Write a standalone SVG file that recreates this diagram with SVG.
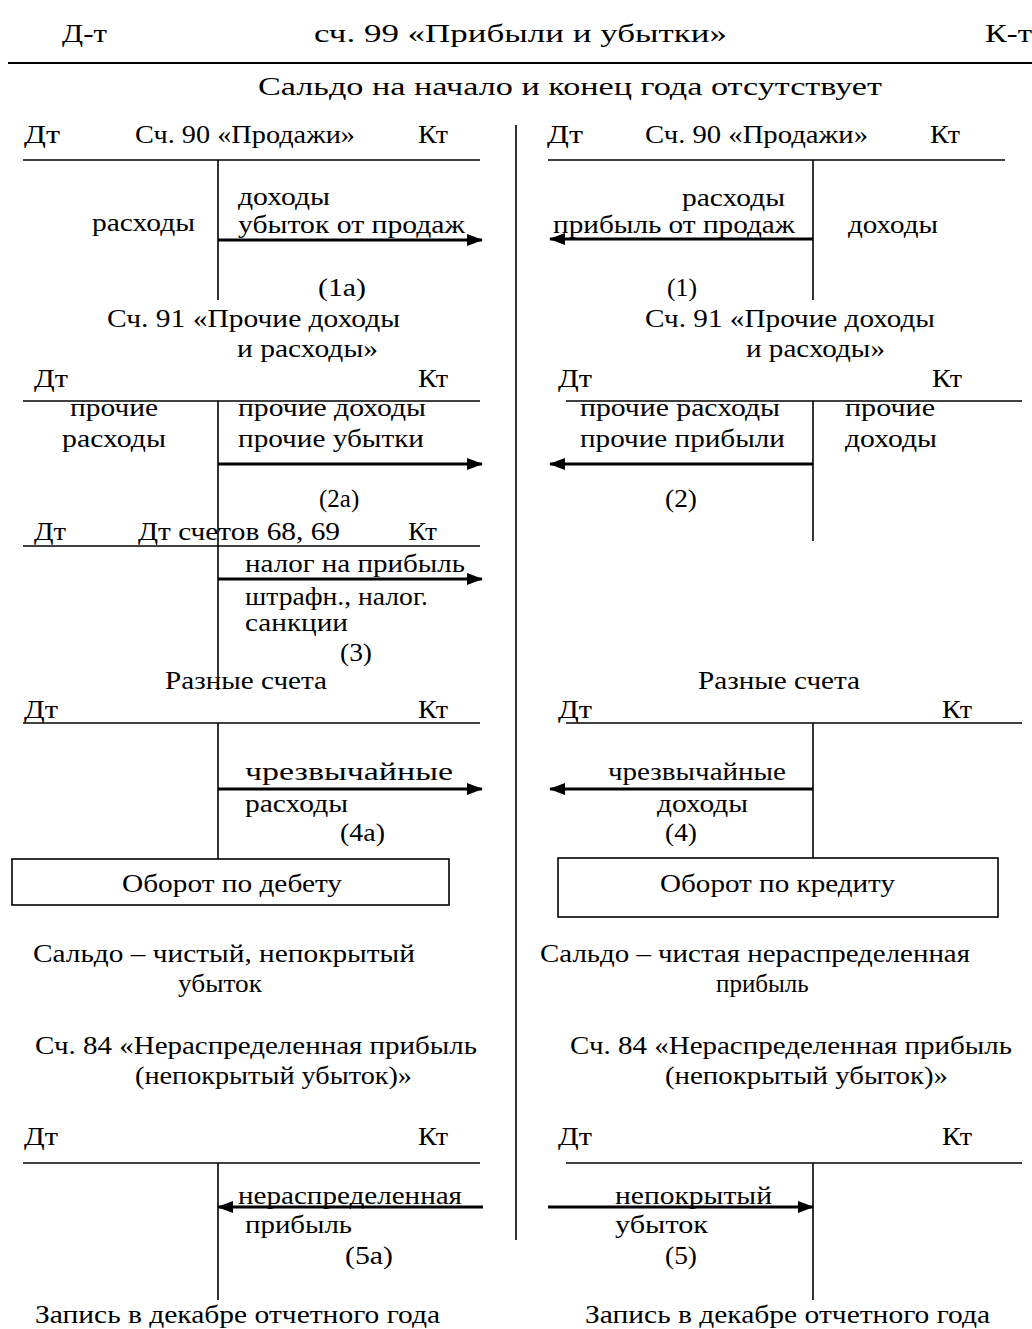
<svg xmlns="http://www.w3.org/2000/svg" width="1032" height="1329" viewBox="0 0 1032 1329">
<defs>
<style>
text{font-family:"Liberation Serif","DejaVu Serif",serif;font-size:25px;fill:#000}
.ln{stroke:#000;stroke-width:1.6;fill:none}
.ar{stroke:#000;stroke-width:3;fill:none}
</style>
<marker id="ah" viewBox="0 0 16 12" refX="15" refY="6" markerWidth="16" markerHeight="12" markerUnits="userSpaceOnUse" orient="auto">
<path d="M0,0 L16,6 L0,12 Z" fill="#000"/>
</marker>
</defs>
<rect width="1032" height="1329" fill="#fff"/>

<g id="header">
<text x="62" y="42" textLength="45" lengthAdjust="spacingAndGlyphs">Д-т</text>
<text x="314" y="42" textLength="413" lengthAdjust="spacingAndGlyphs">сч. 99 «Прибыли и убытки»</text>
<text x="985" y="42" textLength="47" lengthAdjust="spacingAndGlyphs">К-т</text>
<line x1="8" y1="63" x2="1032" y2="63" stroke="#000" stroke-width="2"/>
<text x="258" y="95" textLength="624" lengthAdjust="spacingAndGlyphs">Сальдо на начало и конец года отсутствует</text>
<line class="ln" x1="516" y1="125" x2="516" y2="1240"/>
</g>

<g id="acc90-left">
<text x="24" y="143" textLength="36" lengthAdjust="spacingAndGlyphs">Дт</text>
<text x="135" y="143" textLength="220" lengthAdjust="spacingAndGlyphs">Сч. 90 «Продажи»</text>
<text x="418" y="143" textLength="30" lengthAdjust="spacingAndGlyphs">Кт</text>
<line class="ln" x1="23" y1="160" x2="480" y2="160"/>
<line class="ln" x1="218" y1="160" x2="218" y2="300"/>
<text x="238" y="205" textLength="92" lengthAdjust="spacingAndGlyphs">доходы</text>
<text x="238" y="233" textLength="227" lengthAdjust="spacingAndGlyphs">убыток от продаж</text>
<text x="92" y="231" textLength="103" lengthAdjust="spacingAndGlyphs">расходы</text>
<text x="318" y="296" textLength="48" lengthAdjust="spacingAndGlyphs">(1а)</text>
</g>

<g id="acc90-right">
<text x="547" y="143" textLength="36" lengthAdjust="spacingAndGlyphs">Дт</text>
<text x="645" y="143" textLength="223" lengthAdjust="spacingAndGlyphs">Сч. 90 «Продажи»</text>
<text x="930" y="143" textLength="30" lengthAdjust="spacingAndGlyphs">Кт</text>
<line class="ln" x1="548" y1="160" x2="1005" y2="160"/>
<line class="ln" x1="813" y1="160" x2="813" y2="300"/>
<text x="682" y="206" textLength="103" lengthAdjust="spacingAndGlyphs">расходы</text>
<text x="553" y="233" textLength="242" lengthAdjust="spacingAndGlyphs">прибыль от продаж</text>
<text x="848" y="233" textLength="90" lengthAdjust="spacingAndGlyphs">доходы</text>
<text x="667" y="296" textLength="30" lengthAdjust="spacingAndGlyphs">(1)</text>
</g>

<g id="acc91-left">
<text x="107" y="327" textLength="293" lengthAdjust="spacingAndGlyphs">Сч. 91 «Прочие доходы</text>
<text x="237" y="357" textLength="141" lengthAdjust="spacingAndGlyphs">и расходы»</text>
<text x="34" y="387" textLength="34" lengthAdjust="spacingAndGlyphs">Дт</text>
<text x="418" y="387" textLength="30" lengthAdjust="spacingAndGlyphs">Кт</text>
<line class="ln" x1="23" y1="401" x2="480" y2="401"/>
<line class="ln" x1="218" y1="401" x2="218" y2="690"/>
<text x="70" y="416" textLength="88" lengthAdjust="spacingAndGlyphs">прочие</text>
<text x="62" y="447" textLength="104" lengthAdjust="spacingAndGlyphs">расходы</text>
<text x="238" y="416" textLength="188" lengthAdjust="spacingAndGlyphs">прочие доходы</text>
<text x="238" y="447" textLength="186" lengthAdjust="spacingAndGlyphs">прочие убытки</text>
<text x="319" y="507">(2а)</text>
</g>

<g id="acc91-right">
<text x="645" y="327" textLength="290" lengthAdjust="spacingAndGlyphs">Сч. 91 «Прочие доходы</text>
<text x="746" y="357" textLength="139" lengthAdjust="spacingAndGlyphs">и расходы»</text>
<text x="558" y="387" textLength="34" lengthAdjust="spacingAndGlyphs">Дт</text>
<text x="932" y="387" textLength="30" lengthAdjust="spacingAndGlyphs">Кт</text>
<line class="ln" x1="566" y1="401" x2="1022" y2="401"/>
<line class="ln" x1="813" y1="401" x2="813" y2="541"/>
<text x="580" y="416" textLength="200" lengthAdjust="spacingAndGlyphs">прочие расходы</text>
<text x="580" y="447" textLength="205" lengthAdjust="spacingAndGlyphs">прочие прибыли</text>
<text x="845" y="416" textLength="90" lengthAdjust="spacingAndGlyphs">прочие</text>
<text x="845" y="447" textLength="92" lengthAdjust="spacingAndGlyphs">доходы</text>
<text x="665" y="507" textLength="32" lengthAdjust="spacingAndGlyphs">(2)</text>
</g>

<g id="acc68-69">
<text x="34" y="540" textLength="32" lengthAdjust="spacingAndGlyphs">Дт</text>
<text x="138" y="540" textLength="202" lengthAdjust="spacingAndGlyphs">Дт счетов 68, 69</text>
<text x="408" y="540" textLength="29" lengthAdjust="spacingAndGlyphs">Кт</text>
<line class="ln" x1="23" y1="546" x2="480" y2="546"/>
<text x="245" y="572" textLength="220" lengthAdjust="spacingAndGlyphs">налог на прибыль</text>
<text x="245" y="605" textLength="183" lengthAdjust="spacingAndGlyphs">штрафн., налог.</text>
<text x="245" y="631" textLength="103" lengthAdjust="spacingAndGlyphs">санкции</text>
<text x="340" y="661" textLength="32" lengthAdjust="spacingAndGlyphs">(3)</text>
</g>

<g id="misc-left">
<text x="165" y="689" textLength="162" lengthAdjust="spacingAndGlyphs">Разные счета</text>
<text x="24" y="718" textLength="34" lengthAdjust="spacingAndGlyphs">Дт</text>
<text x="418" y="718" textLength="30" lengthAdjust="spacingAndGlyphs">Кт</text>
<line class="ln" x1="23" y1="723" x2="480" y2="723"/>
<line class="ln" x1="218" y1="723" x2="218" y2="859"/>
<text x="245" y="780" textLength="208" lengthAdjust="spacingAndGlyphs">чрезвычайные</text>
<text x="245" y="812" textLength="103" lengthAdjust="spacingAndGlyphs">расходы</text>
<text x="340" y="841" textLength="45" lengthAdjust="spacingAndGlyphs">(4а)</text>
</g>

<g id="misc-right">
<text x="698" y="689" textLength="162" lengthAdjust="spacingAndGlyphs">Разные счета</text>
<text x="558" y="718" textLength="34" lengthAdjust="spacingAndGlyphs">Дт</text>
<text x="942" y="718" textLength="30" lengthAdjust="spacingAndGlyphs">Кт</text>
<line class="ln" x1="566" y1="723" x2="1022" y2="723"/>
<line class="ln" x1="813" y1="723" x2="813" y2="858"/>
<text x="608" y="780" textLength="178" lengthAdjust="spacingAndGlyphs">чрезвычайные</text>
<text x="657" y="812" textLength="91" lengthAdjust="spacingAndGlyphs">доходы</text>
<text x="665" y="841" textLength="32" lengthAdjust="spacingAndGlyphs">(4)</text>
</g>

<g id="turnover-debit">
<rect class="ln" x="12" y="859" width="437" height="46"/>
<text x="122" y="892" textLength="220" lengthAdjust="spacingAndGlyphs">Оборот по дебету</text>
</g>

<g id="turnover-credit">
<rect class="ln" x="558" y="858" width="440" height="59"/>
<text x="660" y="892" textLength="235" lengthAdjust="spacingAndGlyphs">Оборот по кредиту</text>
</g>

<g id="balance-left">
<text x="33" y="962" textLength="382" lengthAdjust="spacingAndGlyphs">Сальдо – чистый, непокрытый</text>
<text x="178" y="992" textLength="84" lengthAdjust="spacingAndGlyphs">убыток</text>
</g>

<g id="balance-right">
<text x="540" y="962" textLength="430" lengthAdjust="spacingAndGlyphs">Сальдо – чистая нераспределенная</text>
<text x="716" y="992">прибыль</text>
</g>

<g id="acc84-left">
<text x="35" y="1054" textLength="442" lengthAdjust="spacingAndGlyphs">Сч. 84 «Нераспределенная прибыль</text>
<text x="135" y="1084" textLength="277" lengthAdjust="spacingAndGlyphs">(непокрытый убыток)»</text>
<text x="24" y="1145" textLength="34" lengthAdjust="spacingAndGlyphs">Дт</text>
<text x="418" y="1145" textLength="30" lengthAdjust="spacingAndGlyphs">Кт</text>
<line class="ln" x1="23" y1="1163" x2="480" y2="1163"/>
<line class="ln" x1="218" y1="1163" x2="218" y2="1300"/>
<text x="238" y="1204" textLength="224" lengthAdjust="spacingAndGlyphs">нераспределенная</text>
<text x="245" y="1233" textLength="107" lengthAdjust="spacingAndGlyphs">прибыль</text>
<text x="345" y="1264" textLength="48" lengthAdjust="spacingAndGlyphs">(5а)</text>
<text x="35" y="1323" textLength="405" lengthAdjust="spacingAndGlyphs">Запись в декабре отчетного года</text>
</g>

<g id="acc84-right">
<text x="570" y="1054" textLength="442" lengthAdjust="spacingAndGlyphs">Сч. 84 «Нераспределенная прибыль</text>
<text x="665" y="1084" textLength="283" lengthAdjust="spacingAndGlyphs">(непокрытый убыток)»</text>
<text x="558" y="1145" textLength="34" lengthAdjust="spacingAndGlyphs">Дт</text>
<text x="942" y="1145" textLength="30" lengthAdjust="spacingAndGlyphs">Кт</text>
<line class="ln" x1="566" y1="1163" x2="1022" y2="1163"/>
<line class="ln" x1="813" y1="1163" x2="813" y2="1300"/>
<text x="615" y="1204" textLength="157" lengthAdjust="spacingAndGlyphs">непокрытый</text>
<text x="615" y="1233" textLength="93" lengthAdjust="spacingAndGlyphs">убыток</text>
<text x="665" y="1264" textLength="32" lengthAdjust="spacingAndGlyphs">(5)</text>
<text x="585" y="1323" textLength="405" lengthAdjust="spacingAndGlyphs">Запись в декабре отчетного года</text>
</g>

<g id="connectors">
<line class="ar" x1="218" y1="240" x2="482" y2="240" marker-end="url(#ah)"/>
<line class="ar" x1="813" y1="239" x2="550" y2="239" marker-end="url(#ah)"/>
<line class="ar" x1="218" y1="464" x2="482" y2="464" marker-end="url(#ah)"/>
<line class="ar" x1="813" y1="464" x2="550" y2="464" marker-end="url(#ah)"/>
<line class="ar" x1="218" y1="579" x2="482" y2="579" marker-end="url(#ah)"/>
<line class="ar" x1="218" y1="789" x2="482" y2="789" marker-end="url(#ah)"/>
<line class="ar" x1="813" y1="789" x2="550" y2="789" marker-end="url(#ah)"/>
<line class="ar" x1="483" y1="1207" x2="218" y2="1207" marker-end="url(#ah)"/>
<line class="ar" x1="548" y1="1207" x2="813" y2="1207" marker-end="url(#ah)"/>
</g>
</svg>
